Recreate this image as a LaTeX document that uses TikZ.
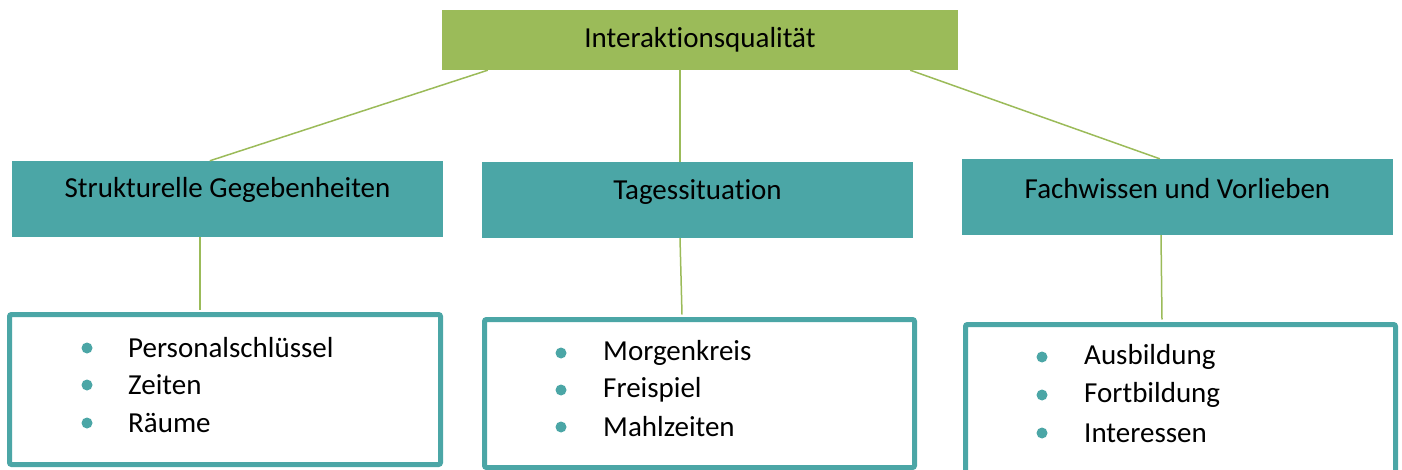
\documentclass[tikz,border=0pt]{standalone}
\usepackage{fontspec}
\setmainfont{Carlito}[Ligatures=NoCommon]
\definecolor{topgreen}{HTML}{9BBB59}
\definecolor{teal}{HTML}{4BA6A6}
\definecolor{linegreen}{HTML}{9BBB59}
\begin{document}
\begin{tikzpicture}[x=1pt,y=-1pt,
  every node/.style={font=\fontsize{29}{35}\selectfont, inner sep=0pt},
  topbox/.style={fill=topgreen, minimum width=516pt, minimum height=60pt},
  catbox/.style={fill=teal, minimum width=431pt, minimum height=76pt},
  listbox/.style={draw=teal, line width=5pt, fill=white, rounded corners=2pt},
  conn/.style={draw=linegreen, line width=1.5pt},
  dot/.style={circle, fill=teal, minimum size=11pt},
  item/.style={anchor=west}]
\clip (0,0) rectangle (1402,470);
\useasboundingbox (0,0) rectangle (1402,470);

% top
\node[topbox] (top) at (700,40) {Interaktionsqualität};

% category boxes
\node[catbox] (b1) at (227.5,199) {};
\node (t1) at (227.5,190) {Strukturelle Gegebenheiten};
\node[catbox] (b2) at (697.5,200) {};
\node (t2) at (697.5,192) {Tagessituation};
\node[catbox] (b3) at (1177.5,197) {};
\node (t3) at (1177.5,189) {Fachwissen und Vorlieben};

% list boxes
\node[listbox, minimum width=431pt, minimum height=150pt] (l1) at (225,389.5) {};
\node[listbox, minimum width=430pt, minimum height=148pt] (l2) at (699.5,393.5) {};
\node[listbox, minimum width=430pt, minimum height=180pt] (l3) at (1180.5,414.5) {};

% connectors
\draw[conn] ([xshift=46pt]top.south west) -- ([xshift=198pt]b1.north west);
\draw[conn] ([xshift=-20pt]top.south) -- ([xshift=-17.5pt]b2.north);
\draw[conn] ([xshift=-48pt]top.south east) -- ([xshift=198pt]b3.north west);
\draw[conn] ([xshift=-27.5pt]b1.south) -- ([xshift=-25pt,yshift=2.5pt]l1.north);
\draw[conn] ([xshift=-17.5pt]b2.south) -- ([xshift=-17.5pt,yshift=2.5pt]l2.north);
\draw[conn] ([xshift=-16.5pt]b3.south) -- ([xshift=-18.5pt,yshift=2.5pt]l3.north);

% list 1
\node[dot] (d11) at (87,348) {};
\node[dot] (d12) at (87,385) {};
\node[dot] (d13) at (87,423) {};
\node[item] (i11) at (128,348) {Personalschlüssel};
\node[item] (i12) at (128,385) {Zeiten};
\node[item] (i13) at (128,423) {Räume};

% list 2
\node[dot] (d21) at (561,353) {};
\node[dot] (d22) at (561,390) {};
\node[dot] (d23) at (561,427) {};
\node[item] (i21) at (603,353) {Morgenkreis};
\node[item] (i22) at (603,390) {Freispiel};
\node[item] (i23) at (603,427) {Mahlzeiten};

% list 3
\node[dot] (d31) at (1042,357) {};
\node[dot] (d32) at (1042,395) {};
\node[dot] (d33) at (1042,433) {};
\node[item] (i31) at (1084,357) {Ausbildung};
\node[item] (i32) at (1084,395) {Fortbildung};
\node[item] (i33) at (1084,433) {Interessen};
\end{tikzpicture}
\end{document}
